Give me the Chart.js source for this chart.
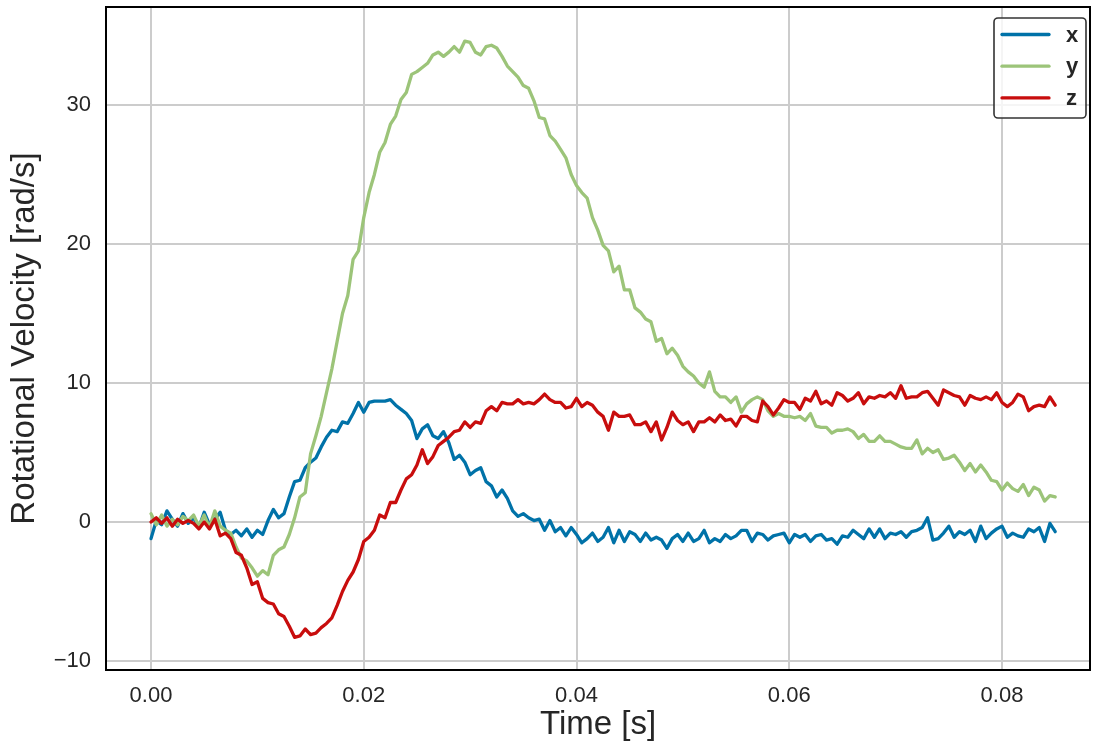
<!DOCTYPE html>
<html>
<head>
<meta charset="utf-8">
<title>Rotational Velocity</title>
<script src="https://cdn.jsdelivr.net/npm/chart.js@4.4.1/dist/chart.umd.min.js"></script>
<style>
  html, body { margin: 0; padding: 0; background: #ffffff; }
  #wrap { width: 1096px; height: 749px; position: relative; }
</style>
</head>
<body>
<div id="wrap"><canvas id="chart" width="1096" height="749"></canvas></div>
<script>
// Gyroscope samples, one every 0.5 ms, rotational velocity in rad/s
const SAMPLE_DT = 0.0005;

const rotX = [
  -1.2, 0.1, -0.2, 0.8, 0.2, -0.3, 0.6, -0.1, 0.3, -0.4,
  0.7, -0.2, 0.2, 0.7, -0.6, -0.9, -0.6, -1.0, -0.5, -1.1,
  -0.6, -0.9, 0.1, 0.9, 0.3, 0.6, 1.8, 2.9, 3.0, 3.9,
  4.3, 4.6, 5.4, 6.1, 6.6, 6.5, 7.2, 7.1, 7.8, 8.6,
  7.9, 8.6, 8.7, 8.7, 8.7, 8.8, 8.4, 8.1, 7.8, 7.3,
  6.0, 6.7, 7.0, 6.2, 6.0, 6.5, 5.7, 4.5, 4.8, 4.3,
  3.4, 3.7, 3.9, 2.9, 2.6, 1.8, 2.3, 1.7, 0.8, 0.4,
  0.6, 0.3, 0.1, 0.2, -0.6, 0.1, -0.7, -0.4, -1.0, -0.4,
  -0.9, -1.5, -1.2, -0.8, -1.4, -1.1, -0.4, -1.5, -0.6, -1.4,
  -0.7, -0.9, -1.4, -0.8, -1.3, -1.1, -1.3, -1.9, -1.2, -0.9,
  -1.4, -0.8, -1.4, -1.2, -0.6, -1.5, -1.2, -1.4, -0.9, -1.2,
  -1.0, -0.6, -0.6, -1.4, -0.8, -0.9, -1.3, -1.0, -0.9, -0.8,
  -1.5, -0.9, -1.1, -0.9, -1.4, -1.0, -0.9, -1.3, -1.2, -1.6,
  -1.0, -1.1, -0.6, -0.9, -1.2, -0.5, -1.1, -0.5, -1.2, -0.8,
  -0.9, -0.7, -1.1, -0.7, -0.6, -0.4, 0.3, -1.3, -1.2, -0.8,
  -0.3, -1.1, -0.7, -0.9, -0.6, -1.4, -0.3, -1.2, -0.8, -0.5,
  -0.3, -1.1, -0.8, -1.0, -1.1, -0.5, -0.7, -0.4, -1.4, -0.1, -0.7
];

const rotY = [
  0.6, -0.2, 0.5, -0.3, 0.2, -0.2, 0.4, 0.1, 0.5, -0.3,
  0.5, -0.4, 0.8, -0.3, -0.6, -0.8, -1.8, -2.6, -2.8, -3.3,
  -3.9, -3.5, -3.8, -2.4, -2.0, -1.8, -0.9, 0.3, 1.8, 2.1,
  4.9, 6.2, 7.6, 9.3, 11.0, 13.0, 15.0, 16.3, 18.9, 19.5,
  21.9, 23.7, 25.0, 26.6, 27.3, 28.6, 29.2, 30.4, 30.9, 32.2,
  32.4, 32.7, 33.0, 33.6, 33.8, 33.5, 33.8, 34.2, 33.8, 34.6,
  34.5, 33.8, 33.6, 34.2, 34.3, 34.1, 33.5, 32.8, 32.4, 32.0,
  31.4, 31.2, 30.3, 29.1, 29.0, 27.8, 27.4, 26.8, 26.2, 25.0,
  24.2, 23.7, 23.3, 21.9, 21.0, 19.9, 19.5, 18.0, 18.4, 16.7,
  16.7, 15.4, 15.1, 14.6, 14.4, 13.0, 13.2, 12.1, 12.5, 12.0,
  11.2, 10.8, 10.5, 10.0, 9.7, 10.8, 9.4, 9.0, 9.0, 8.6,
  9.0, 7.9, 8.5, 8.8, 9.0, 8.8, 8.0, 7.6, 7.8, 7.6,
  7.6, 7.5, 7.6, 7.3, 7.8, 6.9, 6.8, 6.8, 6.4, 6.6,
  6.6, 6.7, 6.5, 6.0, 6.3, 5.8, 5.8, 6.2, 5.8, 5.8,
  5.6, 5.4, 5.3, 5.3, 5.9, 4.9, 5.3, 5.0, 5.2, 4.5,
  4.6, 4.8, 4.3, 3.7, 4.2, 3.6, 4.1, 3.6, 3.0, 2.9,
  2.3, 2.8, 2.4, 2.2, 2.7, 1.9, 2.5, 2.3, 1.5, 1.9, 1.8
];

const rotZ = [
  0.0, 0.3, -0.1, 0.3, -0.3, 0.2, -0.1, 0.1, -0.1, -0.5,
  0.0, -0.5, 0.2, -1.0, -0.8, -1.2, -2.2, -2.4, -3.3, -4.5,
  -4.3, -5.5, -5.8, -5.9, -6.6, -6.8, -7.5, -8.3, -8.2, -7.7,
  -8.1, -8.0, -7.6, -7.3, -6.9, -6.0, -5.0, -4.2, -3.6, -2.7,
  -1.4, -1.1, -0.6, 0.5, 0.3, 1.4, 1.4, 2.3, 3.1, 3.4,
  4.1, 5.2, 4.2, 4.7, 5.5, 5.8, 6.1, 6.5, 6.6, 7.2,
  6.8, 7.2, 7.1, 8.0, 8.3, 8.0, 8.6, 8.5, 8.5, 8.8,
  8.5, 8.6, 8.5, 8.8, 9.2, 8.8, 8.6, 8.6, 8.2, 8.3,
  8.9, 8.3, 8.6, 8.4, 7.9, 7.6, 6.6, 7.9, 7.6, 7.6,
  7.7, 7.0, 7.0, 7.2, 6.5, 7.2, 5.9, 6.8, 7.9, 7.3,
  7.0, 7.2, 6.5, 7.2, 7.2, 7.5, 7.2, 7.7, 7.3, 7.4,
  6.9, 7.6, 7.6, 7.3, 7.2, 8.7, 8.3, 7.7, 8.2, 8.8,
  8.6, 8.6, 8.1, 8.9, 8.7, 9.4, 8.5, 8.7, 8.4, 9.3,
  9.1, 8.7, 8.9, 9.3, 8.5, 9.0, 8.9, 9.1, 9.0, 9.3,
  8.9, 9.8, 8.9, 9.0, 9.0, 9.3, 9.4, 8.9, 8.4, 9.5,
  9.3, 9.1, 9.0, 8.4, 9.1, 8.9, 8.8, 9.0, 8.8, 9.3,
  8.6, 8.3, 8.6, 9.2, 9.0, 8.0, 8.3, 8.4, 8.3, 9.0, 8.4
];

const seriesLabels = ['x', 'y', 'z'];
const seriesColors = ['#0072a8', '#9cc479', '#c80d0d'];
const xTickValues = [0, 0.02, 0.04, 0.06, 0.08];
const yTickValues = [-10, 0, 10, 20, 30];

const INK = '#262626';
const FONT = "'Liberation Sans', Arial, Helvetica, sans-serif";

function toPoints(values) {
  return values.map((v, i) => ({ x: i * SAMPLE_DT, y: v }));
}

// Box around the axes plus a framed legend in the upper-right corner
const frameAndLegend = {
  id: 'frameAndLegend',
  afterDatasetsDraw(chart) {
    const { ctx, chartArea: a } = chart;
    ctx.save();
    ctx.strokeStyle = '#000000';
    ctx.lineWidth = 2;
    ctx.strokeRect(a.left, a.top, a.right - a.left, a.bottom - a.top);

    const bw = 92, bh = 100;
    const bx = a.right - 4 - bw, by = a.top + 11;
    const r = 4;
    ctx.beginPath();
    ctx.moveTo(bx + r, by);
    ctx.lineTo(bx + bw - r, by);
    ctx.arcTo(bx + bw, by, bx + bw, by + r, r);
    ctx.lineTo(bx + bw, by + bh - r);
    ctx.arcTo(bx + bw, by + bh, bx + bw - r, by + bh, r);
    ctx.lineTo(bx + r, by + bh);
    ctx.arcTo(bx, by + bh, bx, by + bh - r, r);
    ctx.lineTo(bx, by + r);
    ctx.arcTo(bx, by, bx + r, by, r);
    ctx.closePath();
    ctx.fillStyle = 'rgba(255,255,255,0.8)';
    ctx.fill();
    ctx.strokeStyle = '#333333';
    ctx.lineWidth = 1.6;
    ctx.stroke();

    const items = chart.data.datasets;
    ctx.font = 'bold 22px ' + FONT;
    ctx.textBaseline = 'middle';
    ctx.textAlign = 'left';
    items.forEach((ds, i) => {
      const yy = by + 16.5 + i * 31.7;
      ctx.beginPath();
      ctx.moveTo(bx + 8, yy);
      ctx.lineTo(bx + 55, yy);
      ctx.strokeStyle = ds.borderColor;
      ctx.lineWidth = 3.3;
      ctx.lineCap = 'round';
      ctx.stroke();
      ctx.fillStyle = INK;
      ctx.fillText(ds.label, bx + 72, yy + 1);
    });
    ctx.restore();
  }
};

const datasets = [rotX, rotY, rotZ].map((vals, i) => ({
  label: seriesLabels[i],
  data: toPoints(vals),
  borderColor: seriesColors[i],
  backgroundColor: seriesColors[i],
  borderWidth: 3.3,
  borderJoinStyle: 'round',
  borderCapStyle: 'round',
  pointRadius: 0,
  tension: 0,
  fill: false,
  order: 3 - i
}));

new Chart(document.getElementById('chart'), {
  type: 'line',
  data: { datasets },
  options: {
    responsive: false,
    animation: false,
    devicePixelRatio: 1,
    layout: { padding: { top: 7, right: 6, left: 0, bottom: 0 } },
    plugins: {
      legend: { display: false },
      tooltip: { enabled: false }
    },
    scales: {
      x: {
        type: 'linear',
        min: -0.00423,
        max: 0.08827,
        afterBuildTicks: s => { s.ticks = xTickValues.map(v => ({ value: v })); },
        afterFit: s => { s.height = 79; s.paddingLeft = 0; s.paddingRight = 0; },
        grid: { color: '#cccccc', lineWidth: 2, drawTicks: false },
        border: { display: false },
        ticks: {
          color: INK,
          font: { family: FONT, size: 22 },
          padding: 13,
          maxRotation: 0,
          callback: v => Number(v).toFixed(2)
        },
        title: {
          display: true,
          text: 'Time [s]',
          color: INK,
          font: { family: FONT, size: 33 },
          padding: { top: 0, bottom: 4 }
        }
      },
      y: {
        type: 'linear',
        min: -10.65,
        max: 37.05,
        afterBuildTicks: s => { s.ticks = yTickValues.map(v => ({ value: v })); },
        afterFit: s => { s.width = 106; s.paddingTop = 0; s.paddingBottom = 0; },
        grid: { color: '#cccccc', lineWidth: 2, drawTicks: false },
        border: { display: false },
        ticks: {
          color: INK,
          font: { family: FONT, size: 22 },
          padding: 15,
          callback: v => (v < 0 ? '\u2212' + Math.abs(v) : String(v))
        },
        title: {
          display: true,
          text: 'Rotational Velocity [rad/s]',
          color: INK,
          font: { family: FONT, size: 33 },
          padding: { top: 5, bottom: 0 }
        }
      }
    }
  },
  plugins: [frameAndLegend]
});
</script>
</body>
</html>
